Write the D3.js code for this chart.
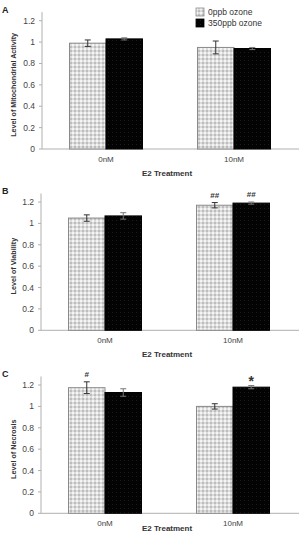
<!DOCTYPE html>
<html><head><meta charset="utf-8">
<script src="https://cdn.jsdelivr.net/npm/d3@7"></script>
<style>body{margin:0;background:#fff}svg{display:block;font-family:"Liberation Sans",Arial,sans-serif}</style>
</head><body>
<script>
const categories = ["0nM", "10nM"];
const seriesNames = ["0ppb ozone", "350ppb ozone"];
const yTicks = [0, 0.2, 0.4, 0.6, 0.8, 1, 1.2];
const yTickLabels = ["0", "0.2", "0.4", "0.6", "0.8", "1", "1.2"];
const panelLetters = ["A", "B", "C"];
const yTitles = ["Level of Mitochondrial Activity", "Level of Viability", "Level of Necrosis"];
const xTitle = "E2 Treatment";
// values[category][series]
const mitoValues = [[0.99, 1.03], [0.95, 0.94]];
const mitoErrors = [[0.03, 0.01], [0.06, 0.01]];
const viabValues = [[1.05, 1.07], [1.17, 1.19]];
const viabErrors = [[0.03, 0.03], [0.025, 0.01]];
const necrValues = [[1.175, 1.13], [1.0, 1.18]];
const necrErrors = [[0.055, 0.035], [0.025, 0.015]];
const viabMarks = [["", ""], ["##", "##"]];
const necrMarks = [["#", ""], ["", "*"]];
const mitoMarks = [["", ""], ["", ""]];

const W = 299, H = 533;
const svg = d3.select("body").append("svg").attr("width", W).attr("height", H);
const defs = svg.append("defs");
const pat = defs.append("pattern").attr("id", "light").attr("patternUnits", "userSpaceOnUse").attr("width", 4).attr("height", 4);
pat.append("rect").attr("width", 4).attr("height", 4).attr("fill", "#dcdcdc");
pat.append("rect").attr("x", 0).attr("y", 0).attr("width", 2).attr("height", 2).attr("fill", "#f4f4f4");
pat.append("rect").attr("x", 2).attr("y", 2).attr("width", 2).attr("height", 2).attr("fill", "#bdbdbd");
const pat2 = defs.append("pattern").attr("id", "dark").attr("patternUnits", "userSpaceOnUse").attr("width", 4).attr("height", 4);
pat2.append("rect").attr("width", 4).attr("height", 4).attr("fill", "#030303");
pat2.append("rect").attr("x", 0).attr("y", 0).attr("width", 1).attr("height", 1).attr("fill", "#1c1c1c");

const panels = [
  {values: mitoValues, errors: mitoErrors, marks: mitoMarks, y0: 149, xL: 42},
  {values: viabValues, errors: viabErrors, marks: viabMarks, y0: 330.3, xL: 41},
  {values: necrValues, errors: necrErrors, marks: necrMarks, y0: 513.3, xL: 41}
];
const pxPerUnit = 106.9;
const yMax = 1.28;

panels.forEach((p, pi) => {
  const g = svg.append("g");
  const y = d3.scaleLinear().domain([0, yMax]).range([p.y0, p.y0 - yMax * pxPerUnit]);
  const x0 = d3.scaleBand().domain(categories).range([p.xL, p.xL + 256]).padding(0);
  const x1 = d3.scaleBand().domain(seriesNames).range([0, 73]);
  const off = (x0.bandwidth() - 73) / 2;

  g.append("line").attr("x1", p.xL).attr("x2", p.xL).attr("y1", y(0)).attr("y2", y(yMax)).attr("stroke", "#b0b0b0").attr("stroke-width", 1);
  g.append("line").attr("x1", p.xL).attr("x2", W).attr("y1", y(0)).attr("y2", y(0)).attr("stroke", "#b0b0b0").attr("stroke-width", 1);
  yTicks.forEach((t, i) => {
    g.append("line").attr("x1", p.xL - 3).attr("x2", p.xL).attr("y1", y(t)).attr("y2", y(t)).attr("stroke", "#b0b0b0");
    g.append("text").attr("x", p.xL - 7).attr("y", y(t)).attr("dy", "0.35em").attr("text-anchor", "end")
      .attr("font-size", 8.5).attr("fill", "#444").text(yTickLabels[i]);
  });
  categories.forEach(c => {
    g.append("text").attr("x", x0(c) + x0.bandwidth() / 2).attr("y", y(0) + 12.5).attr("text-anchor", "middle")
      .attr("font-size", 8).attr("fill", "#444").text(c);
  });
  g.append("text").attr("x", 167).attr("y", Math.min(y(0) + 26.5, H - 2)).attr("text-anchor", "middle")
    .attr("font-size", 8).attr("font-weight", "bold").attr("fill", "#333").text(xTitle);
  g.append("text").attr("transform", `translate(16,${y(0.6)}) rotate(-90)`).attr("text-anchor", "middle")
    .attr("font-size", 7.2).attr("font-weight", "bold").attr("fill", "#333").text(yTitles[pi]);
  g.append("text").attr("x", 2).attr("y", y(0) - 136).attr("font-size", 9).attr("font-weight", "bold").attr("fill", "#222").text(panelLetters[pi]);

  categories.forEach((c, ci) => {
    seriesNames.forEach((s, si) => {
      const v = p.values[ci][si], e = p.errors[ci][si];
      const bx = x0(c) + off + x1(s), bw = x1.bandwidth();
      g.append("rect").attr("x", bx).attr("y", y(v)).attr("width", bw).attr("height", y(0) - y(v))
        .attr("fill", si === 0 ? "url(#light)" : "url(#dark)")
        .attr("stroke", si === 0 ? "#8a8a8a" : "#000").attr("stroke-width", 1);
      const cx = bx + bw / 2, col = si === 0 ? "#333" : "#777";
      g.append("line").attr("x1", cx).attr("x2", cx).attr("y1", y(v + e)).attr("y2", y(v - e)).attr("stroke", col);
      [v + e, v - e].forEach(t => g.append("line").attr("x1", cx - 3).attr("x2", cx + 3).attr("y1", y(t)).attr("y2", y(t)).attr("stroke", col));
      const m = p.marks[ci][si];
      if (m) {
        const big = m === "*";
        g.append("text").attr("x", cx).attr("y", y(v + e) - (big ? 0 : 5)).attr("text-anchor", "middle")
          .attr("font-size", big ? 14 : 8).attr("font-weight", "bold").attr("fill", "#333").text(m);
      }
    });
  });
});

const leg = svg.append("g");
seriesNames.forEach((s, i) => {
  leg.append("rect").attr("x", 196).attr("y", 8 + i * 11).attr("width", 8).attr("height", 8)
    .attr("fill", i === 0 ? "url(#light)" : "url(#dark)").attr("stroke", i === 0 ? "#8a8a8a" : "#000").attr("stroke-width", 0.8);
  leg.append("text").attr("x", 208).attr("y", 12 + i * 11).attr("dy", "0.35em").attr("font-size", 8.5).attr("fill", "#333").text(s);
});
</script>
</body></html>
